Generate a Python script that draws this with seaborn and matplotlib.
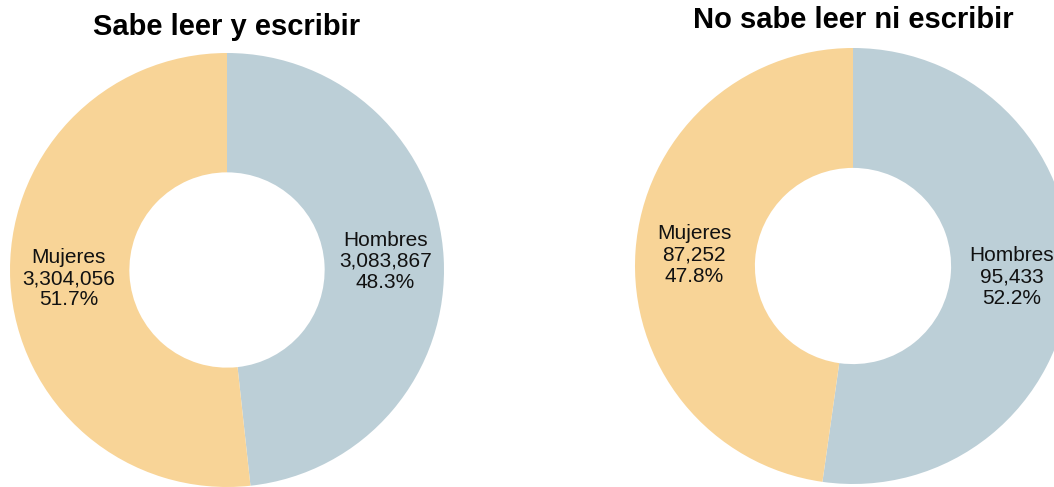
import numpy as np
import matplotlib
matplotlib.use("Agg")
import matplotlib.pyplot as plt
import seaborn as sns

titles = ["Sabe leer y escribir", "No sabe leer ni escribir"]
categories = ["Hombres", "Mujeres"]
values_lee = [3083867, 3304056]
values_no_lee = [95433, 87252]
colors = ["#bccfd7", "#f8d497"]

sns.set_theme(style="white")
plt.rcParams["font.family"] = ["Liberation Sans", "DejaVu Sans"]

W, H = 1054, 487
fig = plt.figure(figsize=(W / 100, H / 100), dpi=100)
fig.patch.set_facecolor("white")

# (center x, center y from top, radius) in pixels, title y from top
layout = [(227, 270, 217, 27), (853, 266, 218, 20)]
datasets = [values_lee, values_no_lee]

for (cx, cy, r, ty), vals, title in zip(layout, datasets, titles):
    ax = fig.add_axes([(cx - r) / W, (H - cy - r) / H, 2 * r / W, 2 * r / H])
    wedges, _ = ax.pie(vals, colors=sns.color_palette(colors), startangle=90,
                       counterclock=False, radius=1,
                       wedgeprops=dict(width=0.55, edgecolor="none"))
    ax.set_xlim(-1, 1)
    ax.set_ylim(-1, 1)
    ax.set_aspect("equal")
    ax.axis("off")
    for w in wedges:
        w.set_clip_on(False)
    total = sum(vals)
    for w, cat, v in zip(wedges, categories, vals):
        ang = np.deg2rad((w.theta1 + w.theta2) / 2)
        rr = 0.73
        ax.text(rr * np.cos(ang), rr * np.sin(ang),
                f"{cat}\n{v:,}\n{v / total * 100:.1f}%",
                ha="center", va="center", fontsize=15, linespacing=1.15,
                color="#111111", clip_on=False)
    fig.text(cx / W, 1 - ty / H, title, ha="center", va="center",
             fontsize=21, fontweight="bold", color="black")

fig.savefig("out.png", dpi=100, facecolor="white")
